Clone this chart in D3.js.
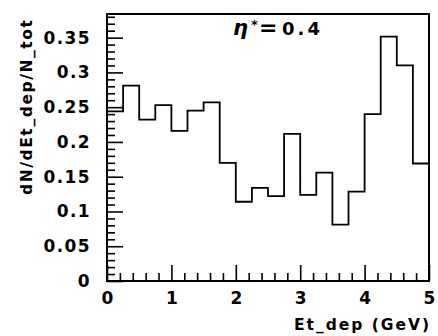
<!DOCTYPE html>
<html>
<head>
<meta charset="utf-8">
<script src="https://cdn.jsdelivr.net/npm/d3@7"></script>
<style>
  html, body { margin: 0; padding: 0; background: #fff; }
  svg { display: block; }
  text { font-family: "DejaVu Sans", sans-serif; font-weight: bold; fill: #000; }
</style>
</head>
<body>
<div id="chart"></div>
<script>
// ---- data ----
const binEdges = [0, 0.25, 0.5, 0.75, 1.0, 1.25, 1.5, 1.75, 2.0, 2.25, 2.5,
                  2.75, 3.0, 3.25, 3.5, 3.75, 4.0, 4.25, 4.5, 4.75, 5.0];
const binValues = [0.244, 0.281, 0.232, 0.253, 0.216, 0.245, 0.257, 0.170, 0.114, 0.134,
                   0.122, 0.2115, 0.124, 0.156, 0.081, 0.1285, 0.240, 0.3515, 0.310, 0.169];
const xTickValues = [0, 1, 2, 3, 4, 5];
const xTickLabels = ["0", "1", "2", "3", "4", "5"];
const yTickValues = [0, 0.05, 0.1, 0.15, 0.2, 0.25, 0.3, 0.35];
const yTickLabels = ["0", "0.05", "0.1", "0.15", "0.2", "0.25", "0.3", "0.35"];
const xMinorTicks = d3.range(0, 26).map(i => i * 0.2).filter(v => Math.abs(v - Math.round(v)) > 1e-6);
const yMinorTicks = d3.range(0, 39).map(i => i * 0.01).filter(v => Math.abs(v / 0.05 - Math.round(v / 0.05)) > 1e-6);
const xTitle = "Et_dep (GeV)";
const yTitle = "dN/dEt_dep/N_tot";
const annSymbol = "η", annSup = "*", annEq = "=", annValue = "0.4";

// ---- layout ----
const W = 438, H = 336;
const mLeft = 107, mRight = 429, mTop = 14, mBottom = 281;

const svg = d3.select("#chart").append("svg").attr("width", W).attr("height", H);

const x = d3.scaleLinear().domain([0, 5]).range([mLeft, mRight]);
const y = d3.scaleLinear().domain([0, 0.384]).range([mBottom, mTop]);

// minor ticks
svg.append("g").attr("transform", `translate(${mLeft},0)`)
  .call(d3.axisLeft(y).tickValues(yMinorTicks).tickSizeInner(-8).tickSizeOuter(0).tickFormat(""))
  .call(g => g.select(".domain").remove())
  .call(g => g.selectAll("line").attr("stroke", "#000").attr("stroke-width", 1.6));
svg.append("g").attr("transform", `translate(0,${mBottom})`)
  .call(d3.axisBottom(x).tickValues(xMinorTicks).tickSizeInner(-8).tickSizeOuter(0).tickFormat(""))
  .call(g => g.select(".domain").remove())
  .call(g => g.selectAll("line").attr("stroke", "#000").attr("stroke-width", 1.6));

// major ticks + labels
svg.append("g").attr("transform", `translate(${mLeft},0)`)
  .call(d3.axisLeft(y).tickValues(yTickValues).tickSizeInner(-16).tickSizeOuter(0).tickPadding(16)
    .tickFormat((d, i) => yTickLabels[i]))
  .call(g => g.select(".domain").remove())
  .call(g => g.selectAll("line").attr("stroke", "#000").attr("stroke-width", 1.6))
  .call(g => g.selectAll("text").attr("font-size", 17).attr("font-family", null).style("letter-spacing", "1.4px"));
svg.append("g").attr("transform", `translate(0,${mBottom})`)
  .call(d3.axisBottom(x).tickValues(xTickValues).tickSizeInner(-16).tickSizeOuter(0).tickPadding(11)
    .tickFormat((d, i) => xTickLabels[i]))
  .call(g => g.select(".domain").remove())
  .call(g => g.selectAll("line").attr("stroke", "#000").attr("stroke-width", 1.6))
  .call(g => g.selectAll("text").attr("font-size", 17).attr("font-family", null));

// frame
svg.append("rect")
  .attr("x", mLeft).attr("y", mTop)
  .attr("width", mRight - mLeft).attr("height", mBottom - mTop)
  .attr("fill", "none").attr("stroke", "#000").attr("stroke-width", 2);

// histogram step line
const pts = [];
binValues.forEach((v, i) => {
  pts.push([binEdges[i], v]);
  pts.push([binEdges[i + 1], v]);
});
svg.append("path")
  .datum(pts)
  .attr("fill", "none").attr("stroke", "#000").attr("stroke-width", 1.8)
  .attr("d", d3.line().x(d => x(d[0])).y(d => y(d[1])));

// annotation
const ann = svg.append("text").attr("y", 35).attr("font-size", 18);
ann.append("tspan").attr("x", 233).attr("font-style", "italic").attr("font-size", 21).text(annSymbol);
ann.append("tspan").attr("x", 251).attr("dy", -6).attr("font-size", 13).text(annSup);
ann.append("tspan").attr("x", 259).attr("dy", 6).attr("font-size", 22).text(annEq);
ann.append("tspan").attr("x", 282)
  .attr("textLength", 38).attr("lengthAdjust", "spacing").text(annValue);

// axis titles
svg.append("text")
  .attr("x", 429).attr("y", 330).attr("text-anchor", "end").attr("font-size", 15.5)
  .attr("textLength", 135).attr("lengthAdjust", "spacing")
  .text(xTitle);
svg.append("text")
  .attr("transform", "translate(32,107.5) rotate(-90)")
  .attr("text-anchor", "middle").attr("font-size", 15.5)
  .attr("textLength", 175).attr("lengthAdjust", "spacing")
  .text(yTitle);
</script>
</body>
</html>
